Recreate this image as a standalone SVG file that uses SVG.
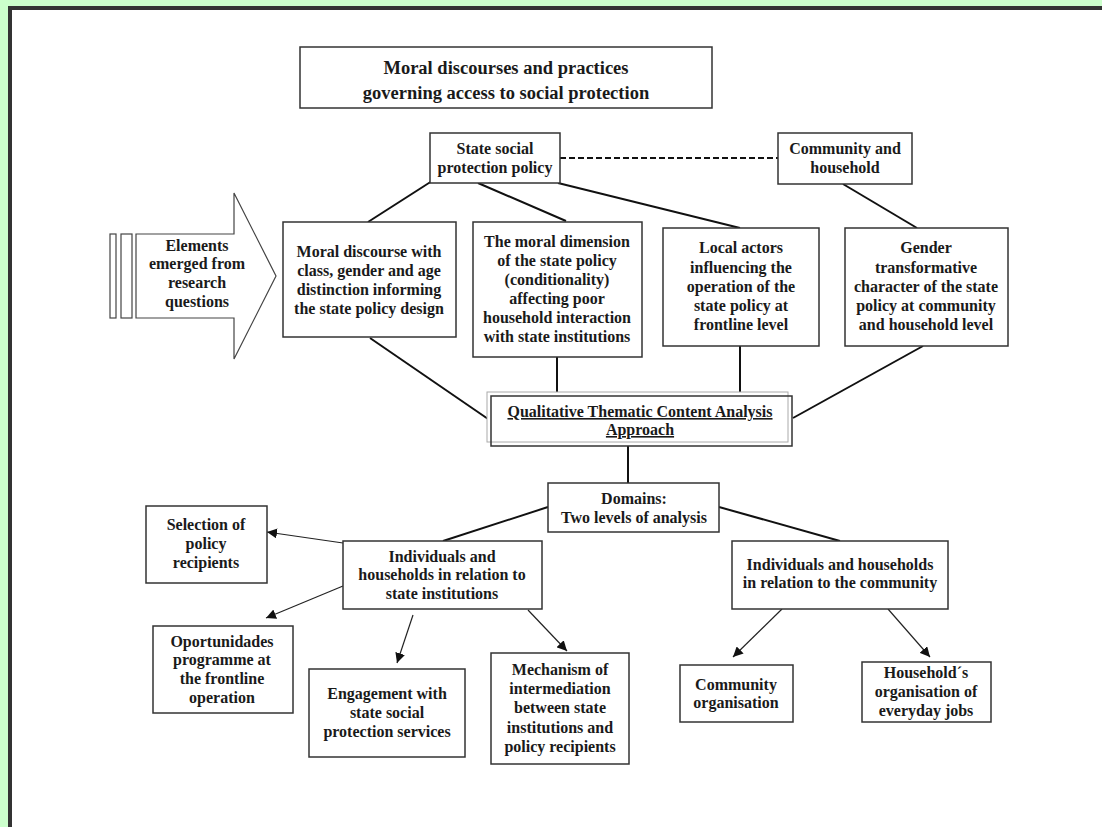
<svg xmlns="http://www.w3.org/2000/svg" width="1102" height="827" viewBox="0 0 1102 827">
<style>
.box{fill:#fff;stroke:#333;stroke-width:1.5}
.t{font-family:"Liberation Serif","Times New Roman",serif;font-weight:bold;font-size:16px;fill:#1a1a1a;text-anchor:middle}
.title{font-size:18.5px}
.ln{stroke:#111;stroke-width:2;fill:none}
.ar{stroke:#222;stroke-width:1.2;fill:none;marker-end:url(#ah)}
</style>
<defs>
<marker id="ah" markerUnits="userSpaceOnUse" markerWidth="12" markerHeight="10" refX="10" refY="5" orient="auto">
<path d="M0,0 L10,5 L0,10 Z" fill="#111"/>
</marker>
</defs>
<rect x="0" y="0" width="1102" height="827" fill="#ccffcc"/>
<rect x="8" y="6" width="1094" height="821" fill="#333"/>
<rect x="12" y="10" width="1090" height="817" fill="#fff"/>

<g id="connectors">
<line class="ln" x1="560" y1="158" x2="778" y2="158" stroke-dasharray="6,3"/>
<line class="ln" x1="368" y1="222" x2="432" y2="181"/>
<line class="ln" x1="478" y1="183" x2="566" y2="221"/>
<line class="ln" x1="558" y1="183" x2="740" y2="228"/>
<line class="ln" x1="843" y1="184" x2="917" y2="228"/>
<line class="ln" x1="370" y1="338" x2="491" y2="421"/>
<line class="ln" x1="557" y1="357" x2="557" y2="396"/>
<line class="ln" x1="740" y1="346" x2="740" y2="396"/>
<line class="ln" x1="923" y1="346" x2="793" y2="418"/>
<line class="ln" x1="628" y1="446" x2="628" y2="483"/>
<line class="ln" x1="548" y1="507" x2="443" y2="541"/>
<line class="ln" x1="719" y1="507" x2="840" y2="541"/>
<line class="ar" x1="343" y1="543" x2="267" y2="532"/>
<line class="ar" x1="343" y1="586" x2="266" y2="618"/>
<line class="ar" x1="413" y1="615" x2="397" y2="663"/>
<line class="ar" x1="528" y1="610" x2="567" y2="651"/>
<line class="ar" x1="782" y1="609" x2="733" y2="657"/>
<line class="ar" x1="888" y1="609" x2="930" y2="657"/>
</g>

<g id="title">
<rect class="box" x="300" y="47" width="412" height="61"/>
<text class="t title" x="506" y="74">Moral discourses and practices</text>
<text class="t title" x="506" y="99">governing access to social protection</text>
</g>

<g id="state">
<rect class="box" x="430" y="133" width="130" height="50"/>
<text class="t" x="495" y="154">State social</text>
<text class="t" x="495" y="173">protection policy</text>
</g>

<g id="community">
<rect class="box" x="778" y="133" width="134" height="51"/>
<text class="t" x="845" y="154">Community and</text>
<text class="t" x="845" y="173">household</text>
</g>

<g id="elements">
<rect x="110" y="234" width="6" height="84" fill="#fff" stroke="#444" stroke-width="1.2"/>
<rect x="121" y="234" width="11" height="84" fill="#fff" stroke="#444" stroke-width="1.2"/>
<polygon points="136,234 234,234 234,193 276,276 234,359 234,318 136,318" fill="#fff" stroke="#444" stroke-width="1.2"/>
<text class="t" x="197" y="251">Elements</text>
<text class="t" x="197" y="269">emerged from</text>
<text class="t" x="197" y="288">research</text>
<text class="t" x="197" y="307">questions</text>
</g>

<g id="moral-discourse">
<rect class="box" x="283" y="222" width="173" height="115"/>
<text class="t" x="369" y="257">Moral discourse with</text>
<text class="t" x="369" y="276">class, gender and age</text>
<text class="t" x="369" y="295">distinction informing</text>
<text class="t" x="369" y="314">the state policy design</text>
</g>

<g id="moral-dimension">
<rect class="box" x="473" y="222" width="169" height="135"/>
<text class="t" x="557" y="247">The moral dimension</text>
<text class="t" x="557" y="266">of the state policy</text>
<text class="t" x="557" y="285">(conditionality)</text>
<text class="t" x="557" y="304">affecting poor</text>
<text class="t" x="557" y="323">household interaction</text>
<text class="t" x="557" y="342">with state institutions</text>
</g>

<g id="local-actors">
<rect class="box" x="663" y="228" width="156" height="118"/>
<text class="t" x="741" y="253">Local actors</text>
<text class="t" x="741" y="273">influencing the</text>
<text class="t" x="741" y="292">operation of the</text>
<text class="t" x="741" y="311">state policy at</text>
<text class="t" x="741" y="330">frontline level</text>
</g>

<g id="gender">
<rect class="box" x="845" y="228" width="163" height="118"/>
<text class="t" x="926" y="253">Gender</text>
<text class="t" x="926" y="273">transformative</text>
<text class="t" x="926" y="292">character of the state</text>
<text class="t" x="926" y="311">policy at community</text>
<text class="t" x="926" y="330">and household level</text>
</g>

<g id="qtca">
<rect x="487" y="392" width="301" height="50" fill="#fff" stroke="#aaa" stroke-width="1"/>
<rect x="491" y="396" width="301" height="50" fill="none" stroke="#333" stroke-width="1.5"/>
<text class="t" x="640" y="417" text-decoration="underline">Qualitative Thematic Content Analysis</text>
<text class="t" x="640" y="435" text-decoration="underline">Approach</text>
</g>

<g id="domains">
<rect class="box" x="548" y="483" width="171" height="49"/>
<text class="t" x="634" y="504">Domains:</text>
<text class="t" x="634" y="523">Two levels of analysis</text>
</g>

<g id="selection">
<rect class="box" x="146" y="506" width="121" height="77"/>
<text class="t" x="206" y="530">Selection of</text>
<text class="t" x="206" y="549">policy</text>
<text class="t" x="206" y="568">recipients</text>
</g>

<g id="ind-state">
<rect class="box" x="343" y="541" width="199" height="68"/>
<text class="t" x="442" y="562">Individuals and</text>
<text class="t" x="442" y="580">households in relation to</text>
<text class="t" x="442" y="599">state institutions</text>
</g>

<g id="ind-community">
<rect class="box" x="732" y="541" width="216" height="68"/>
<text class="t" x="840" y="570">Individuals and households</text>
<text class="t" x="840" y="588">in relation to the community</text>
</g>

<g id="oportunidades">
<rect class="box" x="153" y="626" width="140" height="87"/>
<text class="t" x="222" y="647">Oportunidades</text>
<text class="t" x="222" y="665">programme at</text>
<text class="t" x="222" y="684">the frontline</text>
<text class="t" x="222" y="703">operation</text>
</g>

<g id="engagement">
<rect class="box" x="309" y="669" width="156" height="88"/>
<text class="t" x="387" y="699">Engagement with</text>
<text class="t" x="387" y="718">state social</text>
<text class="t" x="387" y="737">protection services</text>
</g>

<g id="mechanism">
<rect class="box" x="491" y="653" width="138" height="111"/>
<text class="t" x="560" y="675">Mechanism of</text>
<text class="t" x="560" y="694">intermediation</text>
<text class="t" x="560" y="713">between state</text>
<text class="t" x="560" y="733">institutions and</text>
<text class="t" x="560" y="752">policy recipients</text>
</g>

<g id="community-org">
<rect class="box" x="680" y="665" width="113" height="57"/>
<text class="t" x="736" y="690">Community</text>
<text class="t" x="736" y="708">organisation</text>
</g>

<g id="household-org">
<rect class="box" x="862" y="662" width="129" height="60"/>
<text class="t" x="926" y="678">Household´s</text>
<text class="t" x="926" y="697">organisation of</text>
<text class="t" x="926" y="716">everyday jobs</text>
</g>
</svg>
